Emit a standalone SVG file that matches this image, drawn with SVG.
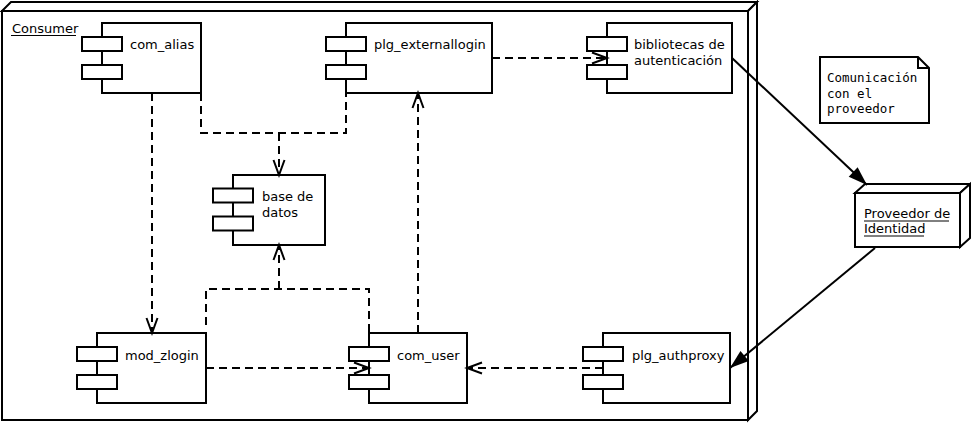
<svg xmlns="http://www.w3.org/2000/svg" width="971" height="423" viewBox="0 0 971 423">
<style>
.b{fill:#fff;stroke:#000;stroke-width:2}
.t{font-family:"DejaVu Sans","Liberation Sans",sans-serif;font-size:13px;fill:#000}
.m{font-family:"DejaVu Sans Mono","Liberation Mono",monospace;font-size:12.5px;fill:#000}
.u{stroke:#000;stroke-width:1}
.d{fill:none;stroke:#000;stroke-width:2;stroke-dasharray:8,5}
.s{fill:none;stroke:#000;stroke-width:2}
</style>
<defs>
<marker id="open" markerUnits="userSpaceOnUse" markerWidth="20" markerHeight="14" refX="16" refY="7" orient="auto" overflow="visible">
<path d="M1,1.5 L16,7 L1,12.5" fill="none" stroke="#000" stroke-width="2"/>
</marker>
<marker id="fill" markerUnits="userSpaceOnUse" markerWidth="20" markerHeight="14" refX="19" refY="7" orient="auto" overflow="visible">
<path d="M0,0.5 L19,7 L0,13.5 Z" fill="#000" stroke="none"/>
</marker>
</defs>
<rect width="971" height="423" fill="#fff"/>
<g id="consumer">
<polygon class="b" points="2,11 11,2 757,2 748,11"/>
<polygon class="b" points="748,11 757,2 757,411 748,420"/>
<rect class="b" x="2" y="11" width="746" height="409"/>
<text class="t" x="12" y="33">Consumer</text>
<line class="u" x1="11" y1="35.5" x2="76" y2="35.5"/>
</g>
<g id="com_alias">
<rect class="b" x="102" y="23" width="99" height="70"/>
<rect class="b" x="82" y="37" width="40" height="14"/>
<rect class="b" x="82" y="65" width="40" height="14"/>
<text class="t" x="130" y="49">com_alias</text>
</g>
<g id="plg_externallogin">
<rect class="b" x="346" y="23" width="146" height="70"/>
<rect class="b" x="326" y="37" width="40" height="14"/>
<rect class="b" x="326" y="65" width="40" height="14"/>
<text class="t" x="374" y="49">plg_externallogin</text>
</g>
<g id="bibliotecas">
<rect class="b" x="607" y="23" width="125" height="70"/>
<rect class="b" x="587" y="37" width="40" height="14"/>
<rect class="b" x="587" y="65" width="40" height="14"/>
<text class="t" x="634" y="49">bibliotecas de</text>
<text class="t" x="634" y="65">autenticación</text>
</g>
<g id="base_de_datos">
<rect class="b" x="233" y="175" width="92" height="70"/>
<rect class="b" x="213" y="188.5" width="40" height="14"/>
<rect class="b" x="213" y="216.5" width="40" height="14"/>
<text class="t" x="262" y="201">base de</text>
<text class="t" x="262" y="216.5">datos</text>
</g>
<g id="mod_zlogin">
<rect class="b" x="97" y="333" width="109" height="70"/>
<rect class="b" x="77" y="347" width="40" height="14"/>
<rect class="b" x="77" y="375" width="40" height="14"/>
<text class="t" x="125" y="360">mod_zlogin</text>
</g>
<g id="com_user">
<rect class="b" x="369" y="333" width="98" height="70"/>
<rect class="b" x="349" y="347" width="40" height="14"/>
<rect class="b" x="349" y="375" width="40" height="14"/>
<text class="t" x="397" y="360">com_user</text>
</g>
<g id="plg_authproxy">
<rect class="b" x="603" y="333" width="127" height="70"/>
<rect class="b" x="583" y="347" width="40" height="14"/>
<rect class="b" x="583" y="375" width="40" height="14"/>
<text class="t" x="632" y="360">plg_authproxy</text>
</g>
<g id="nota">
<polygon class="b" points="820,57 918,57 929,68 929,123 820,123"/>
<polyline class="s" points="918,57 918,68 929,68" stroke-width="1"/>
<text class="m" x="827" y="82">Comunicación</text>
<text class="m" x="827" y="97.5">con el</text>
<text class="m" x="827" y="113">proveedor</text>
</g>
<g id="proveedor">
<polygon class="b" points="855,193 865,184 970,184 960,193"/>
<polygon class="b" points="960,193 970,184 970,238 960,247"/>
<rect class="b" x="855" y="193" width="105" height="54"/>
<text class="t" x="864" y="218">Proveedor de</text>
<line class="u" x1="864" y1="221" x2="949" y2="221"/>
<text class="t" x="864" y="233">Identidad</text>
<line class="u" x1="864" y1="236" x2="924" y2="236"/>
</g>
<g id="connectors">
<polyline class="d" points="201,93 201,133 346,133 346,93"/>
<line class="d" x1="279" y1="133" x2="279" y2="175" marker-end="url(#open)"/>
<polyline class="d" points="206,325 206,289 369,289 369,333"/>
<line class="d" x1="279" y1="289" x2="279" y2="245" marker-end="url(#open)"/>
<line class="d" x1="152" y1="93" x2="152" y2="333" marker-end="url(#open)"/>
<line class="d" x1="492" y1="58" x2="607" y2="58" marker-end="url(#open)"/>
<line class="d" x1="206" y1="368" x2="369" y2="368" marker-end="url(#open)"/>
<line class="d" x1="418" y1="333" x2="418" y2="93" marker-end="url(#open)"/>
<line class="d" x1="603" y1="368" x2="467" y2="368" marker-end="url(#open)"/>
<line class="s" x1="732" y1="58" x2="867" y2="185" marker-end="url(#fill)"/>
<line class="s" x1="875" y1="248" x2="730" y2="368" marker-end="url(#fill)"/>
</g>
</svg>
